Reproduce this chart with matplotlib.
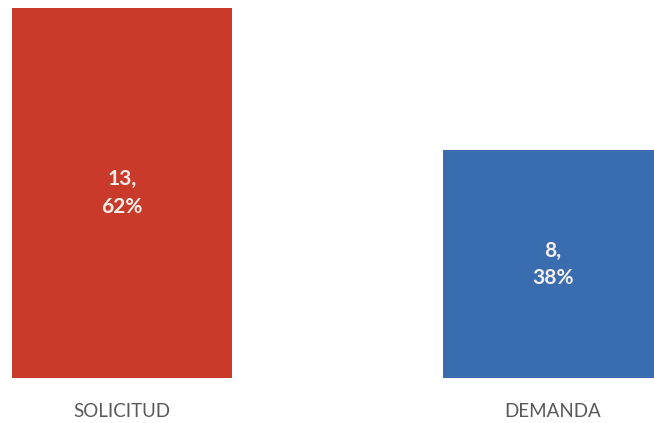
import numpy as np
import matplotlib
matplotlib.use("Agg")
import matplotlib.pyplot as plt

# datos
categorias = ["SOLICITUD", "DEMANDA"]
valores = [13, 8]
colores = ["#C93A2B", "#3A6CB0"]

total = sum(valores)
porcentajes = [round(v / total * 100) for v in valores]

plt.rcParams['font.family'] = ['Lato', 'DejaVu Sans']

fig = plt.figure(figsize=(6.54, 4.23), dpi=100)
ax = fig.add_axes([0, 45 / 423, 1, 378 / 423])

x = np.arange(len(categorias))
barras = ax.bar(x, valores, width=0.51, color=colores)

# etiquetas dentro de las barras
for b, v, p in zip(barras, valores, porcentajes):
    ax.text(b.get_x() + b.get_width() / 2, v / 2, f"{v},\n{p}%",
            ha="center", va="center", color="#F5F0EA", fontsize=15,
            fontweight="bold", linespacing=1.45)

ax.set_xlim(-0.283, 1.234)
ax.set_ylim(0, 13.28)
ax.set_xticks(x)
ax.set_xticklabels(categorias, fontsize=13.5, color="#595959")
ax.tick_params(axis="x", length=0, pad=18)
ax.set_yticks([])
for s in ax.spines.values():
    s.set_visible(False)

fig.savefig("out.png", dpi=100)
